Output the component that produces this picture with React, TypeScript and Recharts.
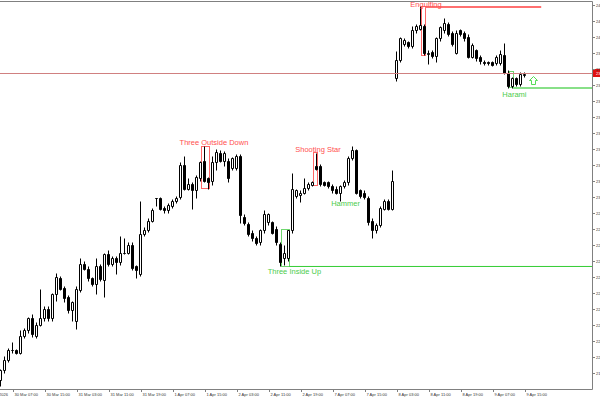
import { ComposedChart, Bar, XAxis, YAxis, ReferenceArea, ReferenceLine, ReferenceDot } from 'recharts'

// H1 bars, oldest first
const opens = [
  2186.25, 2191.9, 2198.75, 2204.4, 2204.4, 2203.1, 2213.75, 2216.9, 2224.4, 2213.75,
  2220.6, 2224.4, 2230.6, 2224.4, 2239.4, 2250, 2243.75, 2237.5, 2229.4, 2223.1,
  2242.5, 2258.75, 2255.6, 2249.4, 2246.25, 2257.5, 2248.75, 2264.4, 2258.75, 2262.5,
  2259.4, 2265.6, 2265.6, 2270.6, 2256.9, 2252.5, 2277.5, 2280, 2285.6, 2299.4,
  2299.4, 2293.75, 2291.9, 2295, 2297.5, 2300, 2320.6, 2305.6, 2308.75, 2304.4,
  2311.9, 2323.1, 2311.9, 2310.6, 2321.9, 2328.1, 2323.1, 2323.1, 2318.75, 2318.75,
  2326.25, 2288.1, 2283.75, 2278.1, 2275, 2271.9, 2279.4, 2284.4, 2284.4, 2280.6,
  2271.25, 2261.9, 2261.9, 2279.4, 2301.25, 2301.25, 2303.1, 2306.25, 2308.1, 2319.4,
  2319.4, 2309.4, 2309.4, 2307.5, 2305.6, 2303.1, 2307.5, 2309.4, 2325, 2329.4,
  2304.4, 2303.1, 2300, 2285.6, 2279.4, 2282.5, 2293.1, 2297.5, 2293.1, 2374.4,
  2386.25, 2396.25, 2396.9, 2395, 2404.4, 2405.6, 2407.5, 2389.4, 2391.25, 2388.75,
  2399.4, 2404.4, 2408.75, 2402.5, 2390.6, 2404.4, 2402.5, 2400.6, 2388.1, 2391.9,
  2387.5, 2385, 2384.4, 2384.4, 2383.75, 2383.75, 2388.75, 2378.1, 2370, 2374.4,
  2371.25, 2376.25,
]
const highs = [
  2193.1, 2201.25, 2206.25, 2209.4, 2205.6, 2216.9, 2218.75, 2225.6, 2227.5, 2221.9,
  2243.1, 2231.9, 2231.9, 2240.6, 2252.5, 2251.25, 2245, 2238.75, 2235.6, 2244.4,
  2262.5, 2260.6, 2256.9, 2250.6, 2262.5, 2258.75, 2265.6, 2267.5, 2263.75, 2263.75,
  2276.25, 2274.4, 2271.9, 2271.9, 2258.1, 2297.5, 2281.25, 2286.9, 2293.75, 2300,
  2300.6, 2295, 2296.25, 2298.75, 2301.25, 2321.9, 2326.25, 2312.5, 2310, 2313.75,
  2323.1, 2331.9, 2313.1, 2326.25, 2330.6, 2329.4, 2328.75, 2324.4, 2325.6, 2327.5,
  2327.5, 2289.4, 2285, 2279.4, 2276.25, 2280.6, 2291.9, 2290.6, 2285.6, 2281.9,
  2272.5, 2270, 2280, 2315.6, 2305.6, 2304.4, 2311.9, 2310, 2310.6, 2328.1,
  2321.25, 2310.6, 2310.6, 2308.75, 2306.9, 2308.1, 2311.25, 2326.25, 2332.5, 2330.6,
  2305.6, 2304.4, 2301.25, 2286.9, 2283.75, 2295, 2298.75, 2298.75, 2316.9, 2391.25,
  2400.6, 2400, 2398.1, 2407.5, 2408.75, 2419.4, 2408.75, 2391.9, 2392.5, 2400.6,
  2407.5, 2411.9, 2410, 2403.75, 2404.4, 2405.6, 2403.75, 2401.9, 2396.25, 2393.1,
  2388.75, 2386.25, 2385.6, 2385.6, 2388.75, 2391.9, 2396.25, 2379.4, 2375.6, 2375.6,
  2378.75, 2378.75,
]
const lows = [
  2181.9, 2190.6, 2197.5, 2203.1, 2202.5, 2202.5, 2212.5, 2215.6, 2213.1, 2212.5,
  2219.4, 2223.1, 2223.1, 2223.1, 2235.6, 2241.9, 2234.4, 2228.1, 2223.1, 2218.1,
  2241.25, 2254.4, 2248.1, 2245, 2240, 2247.5, 2238.1, 2257.5, 2257.5, 2251.9,
  2258.1, 2264.4, 2264.4, 2255, 2249.4, 2251.25, 2276.25, 2278.75, 2284.4, 2294.4,
  2291.9, 2290.6, 2290.6, 2293.75, 2296.25, 2298.75, 2304.4, 2304.4, 2293.1, 2299.4,
  2310.6, 2309.4, 2305.6, 2308.1, 2316.9, 2321.9, 2320, 2309.4, 2316.9, 2317.5,
  2283.75, 2282.5, 2276.25, 2273.1, 2270, 2270.6, 2278.1, 2283.1, 2276.9, 2270.6,
  2256.9, 2258.1, 2260.6, 2278.1, 2300, 2296.9, 2301.9, 2305, 2306.9, 2317.5,
  2307.5, 2306.9, 2306.25, 2303.1, 2301.9, 2298.1, 2306.25, 2308.1, 2323.75, 2301.9,
  2300, 2298.75, 2283.1, 2275, 2278.1, 2281.25, 2291.9, 2291.9, 2291.9, 2373.1,
  2385, 2395, 2393.75, 2393.75, 2403.1, 2404.4, 2388.75, 2383.75, 2387.5, 2384.4,
  2398.1, 2403.1, 2401.25, 2395, 2389.4, 2401.25, 2398.1, 2386.9, 2386.9, 2385.6,
  2383.75, 2382.5, 2382.5, 2381.9, 2382.5, 2382.5, 2376.9, 2368.75, 2368.75, 2370,
  2370, 2375,
]
const closes = [
  2191.9, 2198.75, 2204.4, 2204.4, 2203.1, 2213.75, 2216.9, 2224.4, 2214.4, 2220.6,
  2224.4, 2230.6, 2224.4, 2239.4, 2250, 2243.1, 2237.5, 2229.4, 2234.4, 2243.1,
  2258.75, 2255.6, 2249.4, 2246.25, 2257.5, 2248.75, 2264.4, 2258.75, 2262.5, 2259.4,
  2265.6, 2265.6, 2270.6, 2256.25, 2254.4, 2277.5, 2280, 2285.6, 2292.5, 2299.4,
  2293.1, 2291.9, 2295, 2297.5, 2300, 2320.6, 2305.6, 2308.75, 2304.4, 2312.5,
  2321.9, 2310.6, 2309.4, 2321.9, 2328.75, 2323.1, 2327.5, 2312.5, 2324.4, 2326.25,
  2288.75, 2283.75, 2277.5, 2274.4, 2271.25, 2279.4, 2290, 2290, 2278.1, 2271.9,
  2259.4, 2265.6, 2279.4, 2305.6, 2304.4, 2303.1, 2306.25, 2308.75, 2309.4, 2318.1,
  2308.75, 2308.1, 2307.5, 2304.4, 2303.1, 2307.5, 2310, 2325, 2329.4, 2303.1,
  2301.25, 2300, 2284.4, 2279.4, 2282.5, 2293.75, 2297.5, 2293.1, 2310.6, 2386.25,
  2399.4, 2398.75, 2395, 2404.4, 2407.5, 2407.5, 2390, 2390.6, 2388.75, 2399.4,
  2406.25, 2408.75, 2402.5, 2396.25, 2403.1, 2402.5, 2399.4, 2388.1, 2395, 2386.9,
  2385, 2383.75, 2383.75, 2383.1, 2387.5, 2390, 2378.1, 2370, 2374.4, 2371.25,
  2377.5, 2377.5,
]

const priceTicks = [
  2190, 2200, 2210, 2220, 2230, 2240, 2250, 2260, 2270, 2280, 2290, 2300,
  2310, 2320, 2330, 2340, 2350, 2360, 2370, 2380, 2390, 2400, 2410, 2420,
]
const timeTicks = [0, 3, 11, 19, 27, 35, 43, 51, 59, 67, 75, 83, 91, 99, 107, 115, 123, 131]
const timeLabels = [
  '30 Mar 2026', '30 Mar 07:00', '30 Mar 15:00', '31 Mar 03:00', '31 Mar 11:00', '31 Mar 19:00',
  '1 Apr 07:00', '1 Apr 15:00', '2 Apr 03:00', '2 Apr 11:00', '2 Apr 19:00', '7 Apr 07:00',
  '7 Apr 15:00', '8 Apr 03:00', '8 Apr 11:00', '8 Apr 19:00', '9 Apr 07:00', '9 Apr 15:00',
]

// pattern boxes: first bar, last bar, price range
const patternBoxes = [
  { from: 50, to: 52, high: 2331.9, low: 2305.6, bullish: false },
  { from: 78, to: 79, high: 2328.1, low: 2307.5, bullish: false },
  { from: 105, to: 106, high: 2419.4, low: 2388.75, bullish: false },
  { from: 70, to: 72, high: 2280, low: 2256.9, bullish: true },
  { from: 127, to: 128, high: 2378.75, low: 2368.75, bullish: true },
]
const patternLabels = [
  { text: 'Engulfing', at: 106.2, price: 2419.1, bullish: false },
  { text: 'Three Outside Down', at: 53.2, price: 2332.8, bullish: false },
  { text: 'Shooting Star', at: 79.2, price: 2328.75, bullish: false },
  { text: 'Hammer', at: 86.1, price: 2294.4, bullish: true },
  { text: 'Three Inside Up', at: 73.3, price: 2252.5, bullish: true },
  { text: 'Harami', at: 128.3, price: 2363.1, bullish: true },
]
const patternLevels = [
  { from: 106, to: 135, price: 2419.1 },
  { from: 72, to: 147.825, price: 2256.9 },
  { from: 128, to: 147.825, price: 2368.4 },
]
const buyArrows = [{ at: 133, price: 2373.4 }]

const levelStyles = [
  { stroke: '#ff7070', width: 2 },
  { stroke: '#33cc33', width: 1 },
  { stroke: '#88e088', width: 2 },
]

const X_DOMAIN = [-0.3, 147.825]
const Y_DOMAIN = [2180, 2422.5]
const RED = '#ff5050'
const GREEN = '#4ccc4c'
const AXIS = '#808080'
const FONT = 'Liberation Sans, Arial, sans-serif'

const candles = opens.map((open, i) => ({
  i,
  open,
  high: highs[i],
  low: lows[i],
  close: closes[i],
  range: [lows[i], highs[i]],
}))
const lastPrice = closes[closes.length - 1]

function Candle(props: any) {
  const { x, y, width, height, payload } = props
  const { open, close, high, low } = payload
  const top0 = height >= 0 ? y : y + height
  const k = high - low > 0 ? Math.abs(height) / (high - low) : 0
  const py = (v: number) => Math.round(top0 + (high - v) * k) + 0.5
  const cx = Math.floor(x + width / 2) + 0.5
  const bull = close >= open
  const t = py(Math.max(open, close))
  const b = py(Math.min(open, close))
  return (
    <g>
      <line x1={cx} x2={cx} y1={py(high)} y2={py(low)} stroke="#000" strokeWidth={1} />
      <path
        d={`M${cx - 1},${t}H${cx + 1}V${b}H${cx - 1}Z`}
        fill={bull ? '#fff' : '#000'}
        stroke="#000"
        strokeWidth={1}
      />
    </g>
  )
}

function Box(props: any) {
  const { x, y, width, height, stroke } = props
  const x0 = Math.floor(x) + 0.5
  const y0 = Math.floor(y) + 0.5
  const x1 = Math.floor(x + width) + 0.5
  const y1 = Math.floor(y + height) + 0.5
  return <rect x={x0} y={y0} width={x1 - x0} height={y1 - y0} fill="none" stroke={stroke} strokeWidth={1} />
}

function TimeTick(props: any) {
  const { x, y, payload } = props
  const idx = timeTicks.indexOf(payload.value)
  const label = timeLabels[idx]
  const tx = Math.floor(x) + 0.5
  if (idx === 0) {
    return (
      <text x={tx + 6.5} y={y + 6} fontSize={4} fontFamily={FONT} fill="#333" textAnchor="end">
        {label}
      </text>
    )
  }
  return (
    <g>
      <line x1={tx} x2={tx} y1={y} y2={y + 2.5} stroke={AXIS} />
      <text x={tx + 1} y={y + 6} fontSize={4} fontFamily={FONT} fill="#333">
        {label}
      </text>
    </g>
  )
}

function PriceTick(props: any) {
  const { x, y, payload } = props
  const ty = Math.floor(y) + 0.5
  return (
    <g>
      <line x1={x} x2={x + 2.5} y1={ty} y2={ty} stroke={AXIS} />
      <text x={x + 3.5} y={ty + 1.5} fontSize={4} fontFamily={FONT} fill="#333">
        {payload.value.toFixed(2)}
      </text>
    </g>
  )
}

function BidLabel(props: any) {
  const { viewBox } = props
  const right = viewBox.x + viewBox.width
  const y = Math.floor(viewBox.y)
  return (
    <g>
      <rect x={right + 0.5} y={y - 4} width={10} height={8} fill="#e01010" />
      <text x={right + 3.5} y={y + 1.5} fontSize={4} fontFamily={FONT} fill="#fff">
        {lastPrice.toFixed(2)}
      </text>
    </g>
  )
}

export default function App() {
  return (
    <div style={{ width: 600, height: 400, background: '#fff' }}>
      <style>{'body{margin:0}'}</style>
      <ComposedChart width={600} height={400} data={candles} margin={{ top: 1.5, right: 0, bottom: 0, left: 0 }}>
        <XAxis
          type="number"
          dataKey="i"
          domain={X_DOMAIN}
          allowDataOverflow
          ticks={timeTicks}
          interval={0}
          height={10.5}
          tickSize={0}
          tickMargin={0}
          tickLine={false}
          tick={<TimeTick />}
          stroke={AXIS}
        />
        <YAxis
          orientation="right"
          domain={Y_DOMAIN}
          allowDataOverflow
          ticks={priceTicks}
          interval={0}
          width={7.5}
          tickSize={0}
          tickMargin={0}
          tickLine={false}
          tick={<PriceTick />}
          stroke={AXIS}
        />
        <ReferenceLine y={Y_DOMAIN[1]} stroke={AXIS} strokeWidth={1} />
        <ReferenceLine y={lastPrice} stroke="#d08080" strokeWidth={1} label={<BidLabel />} />
        {patternLevels.map((l, k) => (
          <ReferenceLine
            key={`lvl-${k}`}
            segment={[{ x: l.from, y: l.price }, { x: l.to, y: l.price }]}
            stroke={levelStyles[k].stroke}
            strokeWidth={levelStyles[k].width}
          />
        ))}
        <Bar dataKey="range" barSize={3} shape={<Candle />} isAnimationActive={false} />
        {patternBoxes.map((b, k) => (
          <ReferenceArea
            key={`box-${k}`}
            x1={b.from}
            x2={b.to}
            y1={b.low}
            y2={b.high}
            stroke={b.bullish ? '#6fd66f' : '#ff6666'}
            fill="none"
            shape={<Box />}
          />
        ))}
        {patternLabels.map((p, k) => (
          <ReferenceDot
            key={`lab-${k}`}
            x={p.at}
            y={p.price}
            r={0}
            ifOverflow="visible"
            shape={(s: any) => (
              <text
                x={s.cx}
                y={s.cy}
                textAnchor="middle"
                fontSize={7.5}
                fontFamily={FONT}
                fill={p.bullish ? GREEN : RED}
              >
                {p.text}
              </text>
            )}
          />
        ))}
        {buyArrows.map((a, k) => (
          <ReferenceDot
            key={`arr-${k}`}
            x={a.at}
            y={a.price}
            r={0}
            ifOverflow="visible"
            shape={(s: any) => {
              const cx = Math.floor(s.cx) + 0.5
              const cy = Math.floor(s.cy) + 0.5
              return (
                <path
                  d={`M${cx},${cy - 4}L${cx + 4},${cy}H${cx + 2}V${cy + 4}H${cx - 2}V${cy}H${cx - 4}Z`}
                  fill="#fff"
                  stroke="#55dd55"
                  strokeWidth={1}
                />
              )
            }}
          />
        ))}
      </ComposedChart>
    </div>
  )
}
